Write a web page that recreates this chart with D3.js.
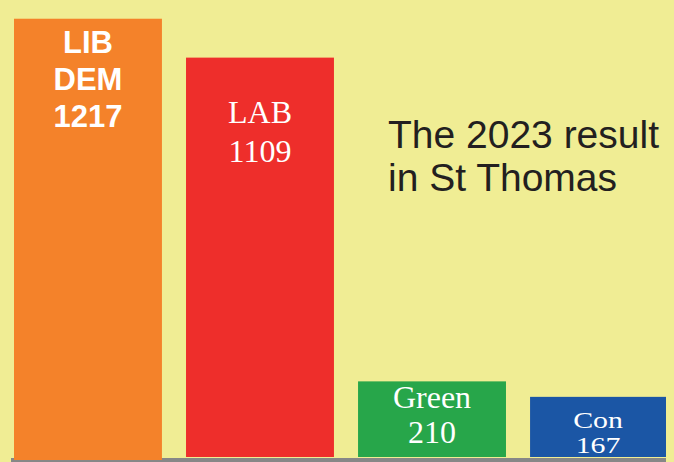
<!DOCTYPE html>
<html>
<head>
<meta charset="utf-8">
<script src="https://cdn.jsdelivr.net/npm/d3@7"></script>
<style>
  html, body { margin: 0; padding: 0; background: #f0ed94; }
  svg { display: block; }
</style>
</head>
<body>
<svg id="chart" width="674" height="462"></svg>
<script>
// ---- data ----
const parties = ["LIB DEM", "LAB", "Green", "Con"];
const votes = [1217, 1109, 210, 167];
const labelLines = [["LIB", "DEM", "1217"], ["LAB", "1109"], ["Green", "210"], ["Con", "167"]];
const titleLines = ["The 2023 result", "in St Thomas"];

// ---- styles ----
const colors = ["#f4822a", "#ee2e2b", "#27a64a", "#1b56a5"];
const labelStyle = [
  { family: "'Liberation Sans', Arial, sans-serif", weight: "bold", size: 31, lead: 37, offset: 34, sx: 1 },
  { family: "'Liberation Serif', 'Times New Roman', serif", weight: "normal", size: 32, lead: 39, offset: 65, sx: 1 },
  { family: "'Liberation Serif', 'Times New Roman', serif", weight: "normal", size: 32, lead: 35, offset: 27, sx: 1 },
  { family: "'Liberation Serif', 'Times New Roman', serif", weight: "normal", size: 23, lead: 25, offset: 31, sx: 1.3 }
];

const svg = d3.select("#chart");
const W = 674, H = 462, baseline = 457, plotRight = 666;

svg.append("rect").attr("width", W).attr("height", H).attr("fill", "#f0ed94");

svg.append("clipPath").attr("id", "plot")
  .append("rect").attr("x", 0).attr("y", 0).attr("width", plotRight).attr("height", H);

const x = d3.scaleBand().domain(parties).range([14, 678]).paddingInner(0.14).paddingOuter(0);
const y = d3.scaleLinear().domain([0, 1269]).range([baseline, 0]);

// axis line (gray)
svg.append("rect").attr("x", 11).attr("y", 458).attr("width", plotRight - 11).attr("height", 4).attr("fill", "#878787");

const bars = svg.append("g").attr("clip-path", "url(#plot)");
bars.selectAll("rect.bar").data(parties).enter().append("rect")
  .attr("class", "bar")
  .attr("x", d => x(d))
  .attr("width", x.bandwidth())
  .attr("y", (d, i) => y(votes[i]))
  .attr("height", (d, i) => (i === 0 ? 460 : baseline) - y(votes[i]))
  .attr("fill", (d, i) => colors[i]);

parties.forEach((p, i) => {
  const st = labelStyle[i];
  const x0 = x(p), x1 = Math.min(x(p) + x.bandwidth(), plotRight);
  const cx = (x0 + x1) / 2;
  const top = y(votes[i]);
  const g = svg.append("g").attr("transform", `translate(${cx},0) scale(${st.sx},1)`);
  labelLines[i].forEach((line, j) => {
    g.append("text")
      .attr("x", 0)
      .attr("y", top + st.offset + j * st.lead)
      .attr("text-anchor", "middle")
      .attr("fill", "#ffffff")
      .attr("font-family", st.family)
      .attr("font-weight", st.weight)
      .attr("font-size", st.size)
      .text(line);
  });
});

titleLines.forEach((t, j) => {
  svg.append("text")
    .attr("x", 388)
    .attr("y", 148 + j * 43)
    .attr("fill", "#231f20")
    .attr("font-family", "'Liberation Sans', Arial, sans-serif")
    .attr("font-size", 39)
    .text(t);
});
</script>
</body>
</html>
